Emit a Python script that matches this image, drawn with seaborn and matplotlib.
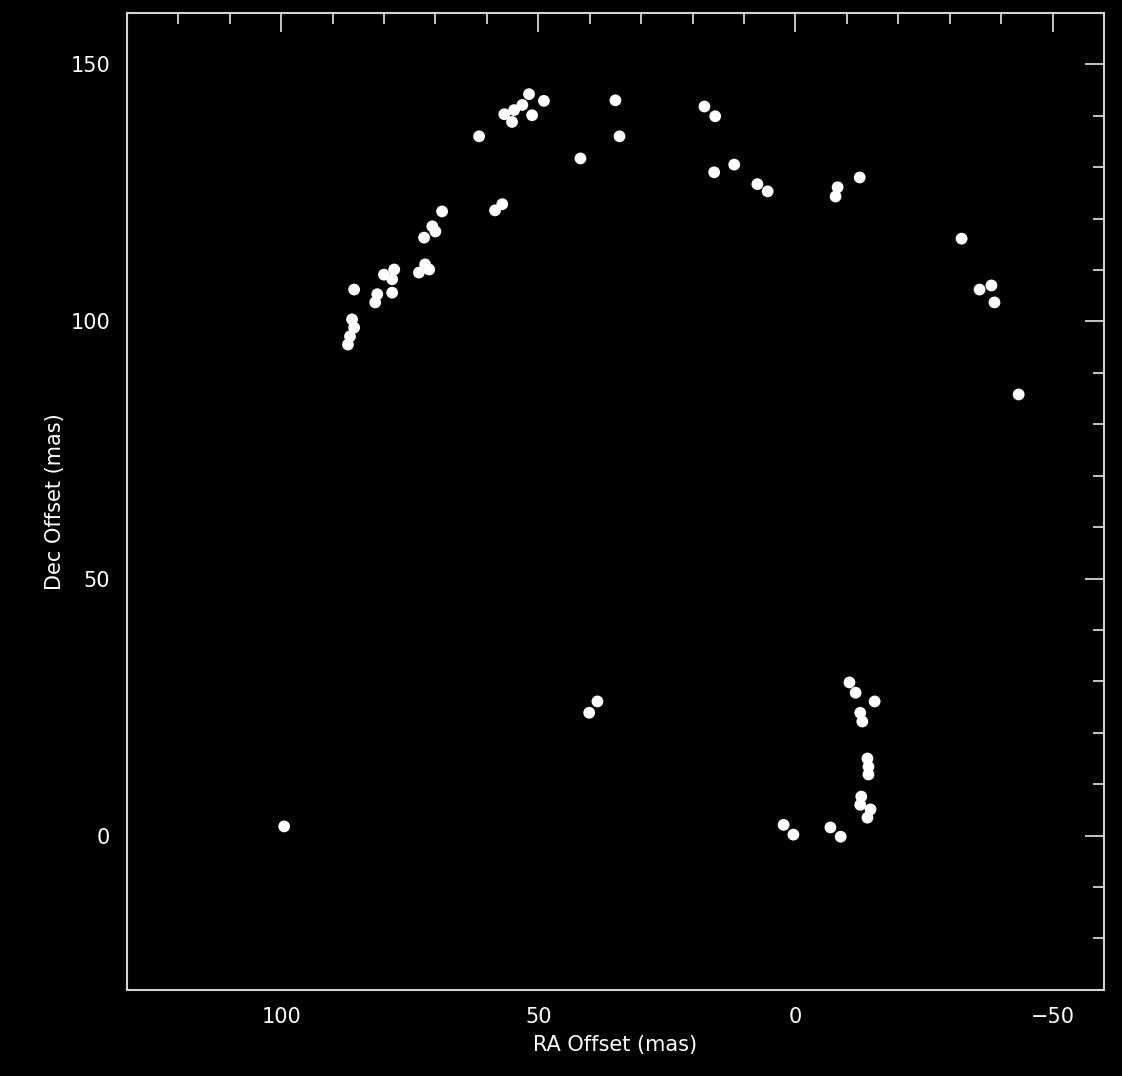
"""
relative astrometry of maser spots, IDL-style black plot
"""
import numpy as np
import pandas as pd
import matplotlib
matplotlib.use('Agg')
import matplotlib.pyplot as plt
import seaborn as sns
from matplotlib.ticker import MultipleLocator

# spot positions (mas)
ra_offset = [48.9, 51.8, 53.1, 54.7, 56.6, 51.2, 55.1, 35.0, 34.2, 61.5,
             41.8, 57.0, 58.4, 68.7, 70.6, 70.0, 72.2, 72.0, 73.2, 71.2,
             78.0, 80.0, 78.4, 81.3, 78.4, 81.7, 85.8, 86.2, 85.8, 86.6,
             87.0, 17.7, 15.6, 11.9, 15.8, 7.4, 5.4, -8.2, -7.8, -12.5,
             -32.3, -35.8, -38.1, -38.7, -43.4,
             -10.5, -11.7, -15.4, -12.6, -13.0, -14.0, -14.2, -14.2, -12.8, -12.6,
             -14.6, -14.0, 2.3, 0.4, -6.8, -8.8,
             99.4, 38.5, 40.1]
dec_offset = [142.9, 144.2, 142.1, 141.1, 140.3, 140.1, 138.8, 143.0, 136.0, 136.0,
              131.7, 122.8, 121.6, 121.4, 118.5, 117.5, 116.3, 111.1, 109.5, 110.1,
              110.1, 109.1, 108.2, 105.3, 105.6, 103.7, 106.2, 100.4, 98.8, 97.1,
              95.5, 141.8, 139.9, 130.5, 129.0, 126.7, 125.3, 126.1, 124.3, 128.0,
              116.1, 106.2, 107.0, 103.7, 85.8,
              29.8, 27.8, 26.1, 23.9, 22.2, 15.0, 13.4, 11.9, 7.6, 6.0,
              5.1, 3.5, 2.1, 0.2, 1.6, -0.2,
              1.8, 26.1, 23.9]

x_ticks = [100, 50, 0, -50]
y_ticks = [0, 50, 100, 150]

fg = '#d4d4d4'
sns.set_style('dark', rc={
    'axes.facecolor': 'black',
    'figure.facecolor': 'black',
    'axes.edgecolor': fg,
    'axes.labelcolor': 'white',
    'xtick.color': fg,
    'ytick.color': fg,
    'text.color': 'white',
})
plt.rcParams['font.family'] = ['DejaVu Sans']

df = pd.DataFrame({'ra': ra_offset, 'dec': dec_offset})

fig = plt.figure(figsize=(11.22, 10.76), dpi=100)
ax = fig.add_axes([0.113, 0.080, 0.871, 0.908])

sns.scatterplot(data=df, x='ra', y='dec', ax=ax, color='white', s=72,
                edgecolor='none', linewidth=0)

ax.set_xlim(130, -60)
ax.set_ylim(-30, 160)
ax.set_xticks(x_ticks)
ax.set_yticks(y_ticks)
ax.xaxis.set_minor_locator(MultipleLocator(10))
ax.yaxis.set_minor_locator(MultipleLocator(10))
ax.tick_params(which='both', direction='in', top=True, right=True,
               labelcolor='white', labelsize=15, width=1.3)
ax.tick_params(which='major', length=14, pad=12)
ax.tick_params(which='minor', length=8)
for sp in ax.spines.values():
    sp.set_linewidth(1.5)
    sp.set_color(fg)
ax.grid(False)

ax.set_xlabel('RA Offset (mas)', fontsize=15, labelpad=6)
ax.set_ylabel('Dec Offset (mas)', fontsize=15, labelpad=4)

fig.savefig('out.png', dpi=100, facecolor='black')
